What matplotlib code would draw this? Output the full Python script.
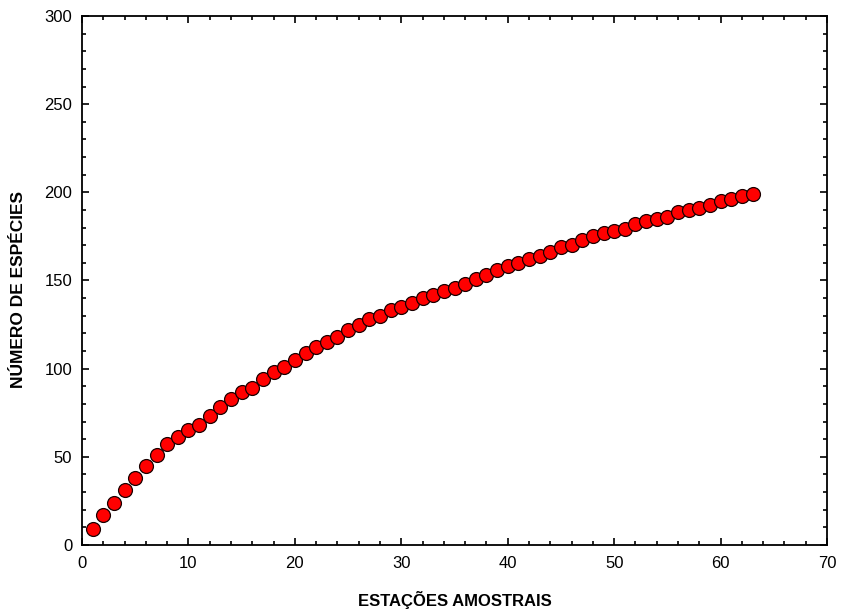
import matplotlib
matplotlib.use("Agg")
import matplotlib.pyplot as plt
from matplotlib.ticker import MultipleLocator

plt.rcParams['font.family'] = ['Liberation Sans', 'DejaVu Sans']

estacoes = list(range(1, 64))
especies = [9, 17, 24, 31, 38, 45, 51, 57, 61, 65,
            68, 73, 78, 83, 87, 89, 94, 98, 101, 105,
            109, 112, 115, 118, 122, 125, 128, 130, 133, 135,
            137, 140, 142, 144, 146, 148, 151, 153, 156, 158,
            160, 162, 164, 166, 169, 170, 173, 175, 177, 178,
            179, 182, 184, 185, 186, 189, 190, 191, 193, 195,
            196, 198, 199]

fig = plt.figure(figsize=(8.41, 6.14), dpi=100)
ax = fig.add_axes([0.0975, 0.1124, 0.8859, 0.8616])

ax.plot(estacoes, especies, linestyle='none', marker='o', markersize=10,
        markerfacecolor='#ff0000', markeredgecolor='#1a0000', markeredgewidth=0.9)

ax.set_xlim(0, 70)
ax.set_ylim(0, 300)
ax.xaxis.set_major_locator(MultipleLocator(10))
ax.xaxis.set_minor_locator(MultipleLocator(2))
ax.yaxis.set_major_locator(MultipleLocator(50))
ax.yaxis.set_minor_locator(MultipleLocator(10))
ax.tick_params(which='both', direction='in', top=True, right=True, labelsize=12, width=1.2)
ax.tick_params(which='major', length=5)
ax.tick_params(axis='x', which='major', pad=8)
ax.tick_params(axis='y', which='major', pad=7)
ax.tick_params(which='minor', length=3)
for s in ax.spines.values():
    s.set_linewidth(1.3)

ax.set_xlabel('ESTAÇÕES AMOSTRAIS', fontsize=12, fontweight='bold', labelpad=14)
ax.set_ylabel('NÚMERO DE ESPÉCIES', fontsize=12.5, fontweight='bold', labelpad=13)
ax.yaxis.label.set_y(0.482)

fig.savefig('out.png', dpi=100)
